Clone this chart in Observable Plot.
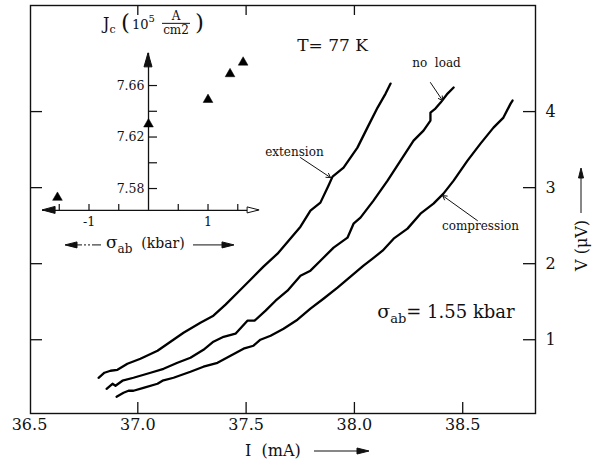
<!DOCTYPE html>
<html><head><meta charset="utf-8">
<script src="https://cdn.jsdelivr.net/npm/d3@7"></script>
<script src="https://cdn.jsdelivr.net/npm/@observablehq/plot@0.6"></script>
<style>
body{margin:0;background:#fff;}
#wrap{position:relative;width:593px;height:463px;overflow:hidden;}
#wrap svg{display:block;}
#wrap text{font-family:"DejaVu Serif", serif !important;}
#inset{position:absolute;left:30px;top:15px;}
</style></head><body><div id="wrap"></div>
<script>
// ---------- data (I in mA, V in µV) ----------
const extension = [[36.819,0.500],[36.846,0.566],[36.874,0.592],[36.906,0.605],[36.952,0.684],[37.012,0.750],[37.091,0.855],[37.151,0.974],[37.211,1.092],[37.289,1.224],[37.349,1.316],[37.405,1.461],[37.460,1.618],[37.520,1.789],[37.580,1.961],[37.645,2.132],[37.696,2.303],[37.751,2.487],[37.797,2.697],[37.843,2.803],[37.880,3.026],[37.899,3.145],[37.950,3.263],[38.014,3.526],[38.060,3.789],[38.107,4.053],[38.144,4.237],[38.167,4.368]];
const noLoad = [[36.856,0.355],[36.883,0.421],[36.897,0.395],[36.929,0.461],[36.980,0.500],[37.059,0.566],[37.119,0.618],[37.183,0.697],[37.243,0.763],[37.303,0.868],[37.349,0.974],[37.396,1.039],[37.451,1.079],[37.506,1.250],[37.539,1.250],[37.590,1.382],[37.636,1.513],[37.691,1.645],[37.751,1.842],[37.797,1.908],[37.843,2.039],[37.904,2.211],[37.968,2.342],[37.996,2.526],[38.028,2.605],[38.088,2.829],[38.153,3.092],[38.213,3.355],[38.273,3.618],[38.319,3.750],[38.351,3.882],[38.351,3.987],[38.374,4.039],[38.398,4.118],[38.430,4.237],[38.458,4.316]];
const compression = [[36.902,0.250],[36.934,0.303],[36.957,0.329],[36.980,0.329],[37.026,0.368],[37.091,0.421],[37.114,0.461],[37.165,0.500],[37.243,0.579],[37.303,0.645],[37.368,0.697],[37.428,0.789],[37.488,0.882],[37.534,0.921],[37.566,1.000],[37.613,1.053],[37.673,1.145],[37.737,1.263],[37.797,1.408],[37.857,1.539],[37.922,1.684],[37.982,1.829],[38.042,1.974],[38.084,2.066],[38.130,2.171],[38.181,2.329],[38.245,2.461],[38.305,2.658],[38.365,2.789],[38.411,2.921],[38.458,3.092],[38.522,3.355],[38.582,3.579],[38.642,3.789],[38.688,3.921],[38.721,4.105],[38.730,4.145]];

const xTickLabels = [36.5, 37.0, 37.5, 38.0, 38.5];
const xTicksBottom = [37.0, 37.5, 38.0, 38.5];
const xTicksTop = [37.0, 37.5, 38.0];
const yTickValues = [1, 2, 3, 4];

// annotations (data coords)
const labels = [
  {text: "T= 77 K", x: 37.899, y: 4.868, size: 17},
  {text: "no  load", x: 38.379, y: 4.632, size: 12},
  {text: "extension", x: 37.723, y: 3.461, size: 12},
  {text: "compression", x: 38.582, y: 2.487, size: 12}
];
const pointers = [
  {x1: 38.351, y1: 4.382, x2: 38.407, y2: 4.145},
  {x1: 37.751, y1: 3.395, x2: 37.890, y2: 3.132},
  {x1: 38.568, y1: 2.566, x2: 38.407, y2: 2.895}
];
const stressLabel = {x: 38.425, y: 1.355};

// inset: Jc (10^5 A/cm2) vs sigma_ab (kbar)
const insetStress = [-1.53, 0, 1.0, 1.37, 1.59];
const insetJc = [7.573, 7.630, 7.649, 7.669, 7.678];
const insetXTicks = [-1.5, -1, -0.5, 0.5, 1, 1.5];
const insetXLabels = [-1, 1];
const insetYTicks = [7.58, 7.60, 7.62, 7.64, 7.66];
const insetYLabels = [7.58, 7.62, 7.66];
const insetOrigin = {x: 0, y: 7.563};
const insetXAxisEnds = [-1.78, 1.85];
const insetYAxisTop = 7.685;

// ---------- main chart ----------
const FONT = "DejaVu Serif";
const INK = "#111";
const W = 593, H = 463;
const mL = 30, mR = 58, mT = 5, mB = 50;
const innerW = W - mL - mR, innerH = H - mT - mB;

const series = [["extension", extension], ["no load", noLoad], ["compression", compression]];
const lineData = series.flatMap(([name, pts]) => pts.map(([x, y]) => ({series: name, x, y})));

const main = Plot.plot({
  width: W, height: H,
  marginLeft: mL, marginRight: mR, marginTop: mT, marginBottom: mB,
  style: {fontFamily: FONT, fontSize: "16px", color: INK, background: "white"},
  x: {domain: [36.5046, 38.836], axis: null},
  y: {domain: [0.03, 5.395], axis: null},
  marks: [
    Plot.frame({stroke: INK, strokeWidth: 1.4}),
    Plot.tickX(xTicksBottom, {x: d => d, insetTop: innerH - 11, stroke: INK, strokeWidth: 1.3}),
    Plot.tickX(xTicksTop, {x: d => d, insetBottom: innerH - 10, stroke: INK, strokeWidth: 1.3}),
    Plot.tickY(yTickValues, {y: d => d, insetLeft: innerW - 12, stroke: INK, strokeWidth: 1.3}),
    Plot.tickY(yTickValues, {y: d => d, insetRight: innerW - 12, stroke: INK, strokeWidth: 1.3}),
    Plot.text(xTickLabels, {x: d => d, frameAnchor: "bottom", dy: 16, text: d => d.toFixed(1), fontSize: 16, fontFamily: FONT, fill: INK}),
    Plot.text(yTickValues, {y: d => d, frameAnchor: "right", dx: 10, textAnchor: "start", text: d => String(d), fontSize: 16, fontFamily: FONT, fill: INK}),
    Plot.line(lineData, {x: "x", y: "y", z: "series", stroke: "#000", strokeWidth: 2.3, strokeLinejoin: "round"}),
    Plot.text(labels, {x: "x", y: "y", text: "text", fontSize: d => d.size, fontFamily: FONT, fill: INK}),
    Plot.arrow(pointers, {x1: "x1", y1: "y1", x2: "x2", y2: "y2", stroke: INK, strokeWidth: 1, headLength: 7})
  ]
});
const wrap = document.getElementById("wrap");
wrap.appendChild(main);

function scaleFn(plot, name, dom, rng) {
  const s = plot.scale && plot.scale(name);
  if (s && s.apply) return v => s.apply(v);
  return d3.scaleLinear(dom, rng);
}
const sx = scaleFn(main, "x", [36.5046, 38.836], [mL, W - mR]);
const sy = scaleFn(main, "y", [0.03, 5.395], [H - mB, mT]);

function rich(svg, x, y, parts, anchor = "start", transform = null) {
  const t = d3.select(svg).append("text")
    .attr("x", x).attr("y", y).attr("text-anchor", anchor)
    .attr("font-family", FONT).attr("fill", INK);
  if (transform) t.attr("transform", transform).attr("x", 0).attr("y", 0);
  for (const p of parts) {
    const s = t.append("tspan").text(p.text).attr("font-size", p.size);
    if (p.dy) s.attr("dy", p.dy);
  }
  return t;
}
function head(svg, tipX, tipY, dir, len, half, hollow = false) {
  let pts;
  if (dir === "right") pts = [[tipX, tipY], [tipX - len, tipY - half], [tipX - len, tipY + half]];
  if (dir === "left") pts = [[tipX, tipY], [tipX + len, tipY - half], [tipX + len, tipY + half]];
  if (dir === "up") pts = [[tipX, tipY], [tipX - half, tipY + len], [tipX + half, tipY + len]];
  d3.select(svg).append("path").attr("d", "M" + pts.join("L") + "Z")
    .attr("fill", hollow ? "white" : INK).attr("stroke", INK).attr("stroke-width", 1);
}

// sigma_ab = 1.55 kbar
{
  const cx = sx(stressLabel.x), cy = sy(stressLabel.y) + 6;
  rich(main, cx, cy, [
    {text: "σ", size: 19},
    {text: "ab", size: 13, dy: 5},
    {text: "= 1.55 kbar", size: 18, dy: -5}
  ], "middle");
}
// x axis title
{
  const y = H - 7;
  rich(main, 245, y, [{text: "I  (mA)", size: 16}]);
  d3.select(main).append("line").attr("x1", 314).attr("x2", 358).attr("y1", y - 5).attr("y2", y - 5)
    .attr("stroke", INK).attr("stroke-width", 1.2);
  head(main, 369, y - 5, "right", 12, 3);
}
// y axis title (rotated)
{
  rich(main, 0, 0, [{text: "V (μV)", size: 16}], "start", "translate(587,271) rotate(-90)");
  d3.select(main).append("line").attr("x1", 581).attr("x2", 581).attr("y1", 213).attr("y2", 178)
    .attr("stroke", INK).attr("stroke-width", 1);
  head(main, 581, 168, "up", 10, 2.5);
}

// ---------- inset ----------
const IW = 250, IH = 245;
const ixDom = [-1.983, 2.218], iyDom = [7.5241, 7.7144];
const insetData = insetStress.map((s, i) => ({s, jc: insetJc[i]}));
const inset = Plot.plot({
  width: IW, height: IH, margin: 0,
  style: {fontFamily: FONT, fontSize: "12px", color: INK, background: "transparent", overflow: "visible"},
  x: {domain: ixDom, axis: null},
  y: {domain: iyDom, axis: null},
  marks: [
    Plot.ruleY([insetOrigin.y], {x1: insetXAxisEnds[0], x2: insetXAxisEnds[1], stroke: INK, strokeWidth: 1.3}),
    Plot.ruleX([insetOrigin.x], {y1: insetOrigin.y, y2: insetYAxisTop, stroke: INK, strokeWidth: 1.3}),
    Plot.ruleX(insetXTicks, {x: d => d, y1: insetOrigin.y, y2: insetOrigin.y + 6 / 1287.5, stroke: INK, strokeWidth: 1.2}),
    Plot.ruleY(insetYTicks, {y: d => d, x1: insetOrigin.x, x2: insetOrigin.x + 9 / 59.5, stroke: INK, strokeWidth: 1.2}),
    Plot.text(insetYLabels, {x: insetOrigin.x, y: d => d, dx: -4, textAnchor: "end", text: d => d.toFixed(2), fontSize: 12.5, fontFamily: FONT, fill: INK}),
    Plot.text(insetXLabels, {x: d => d, y: insetOrigin.y, dy: 12, text: d => String(d), fontSize: 12.5, fontFamily: FONT, fill: INK}),
    Plot.dot(insetData, {x: "s", y: "jc", symbol: "triangle", r: 3.6, fill: "#000", stroke: "#000", strokeWidth: 0.5})
  ]
});
inset.id = "inset";
wrap.appendChild(inset);
const ix = scaleFn(inset, "x", ixDom, [0, IW]);
const iy = scaleFn(inset, "y", iyDom, [IH, 0]);
{
  const oy = iy(insetOrigin.y), ox = ix(insetOrigin.x);
  head(inset, ix(insetXAxisEnds[0]), oy, "left", 13, 3.5);
  head(inset, ix(insetXAxisEnds[1]) + 1, oy, "right", 12, 3, true);
  head(inset, ox, iy(insetYAxisTop), "up", 14, 4);
  const ax = ox - 45, ay = iy(insetYAxisTop) - 24;
  rich(inset, ax, ay, [{text: "J", size: 16}, {text: "c", size: 11, dy: 4}]);
  rich(inset, ax + 18, ay + 1, [{text: "(", size: 23}]);
  rich(inset, ax + 29, ay, [{text: "10", size: 13}, {text: "5", size: 10, dy: -7}]);
  rich(inset, ax + 73, ay - 9, [{text: "A", size: 12}], "middle");
  d3.select(inset).append("line").attr("x1", ax + 59).attr("x2", ax + 87)
    .attr("y1", ay - 5.5).attr("y2", ay - 5.5).attr("stroke", INK).attr("stroke-width", 1);
  rich(inset, ax + 73, ay + 5, [{text: "cm2", size: 12}], "middle");
  rich(inset, ax + 92, ay + 1, [{text: ")", size: 23}]);
  const ly = oy + 35;
  d3.select(inset).append("line").attr("x1", ox - 80).attr("x2", ox - 47)
    .attr("y1", ly).attr("y2", ly).attr("stroke", INK).attr("stroke-width", 1).attr("stroke-dasharray", "14 2 2 2 2 2");
  head(inset, ox - 83, ly, "left", 12, 3);
  rich(inset, ox - 42, ly + 3, [{text: "σ", size: 17}, {text: "ab", size: 12, dy: 5}, {text: "  (kbar)", size: 14, dy: -5}]);
  d3.select(inset).append("line").attr("x1", ox + 45).attr("x2", ox + 74)
    .attr("y1", ly).attr("y2", ly).attr("stroke", INK).attr("stroke-width", 1);
  head(inset, ox + 86, ly, "right", 12, 3);
}
// make every label use the serif face
d3.selectAll("#wrap text").style("font-family", "'DejaVu Serif', serif");
</script></body></html>
